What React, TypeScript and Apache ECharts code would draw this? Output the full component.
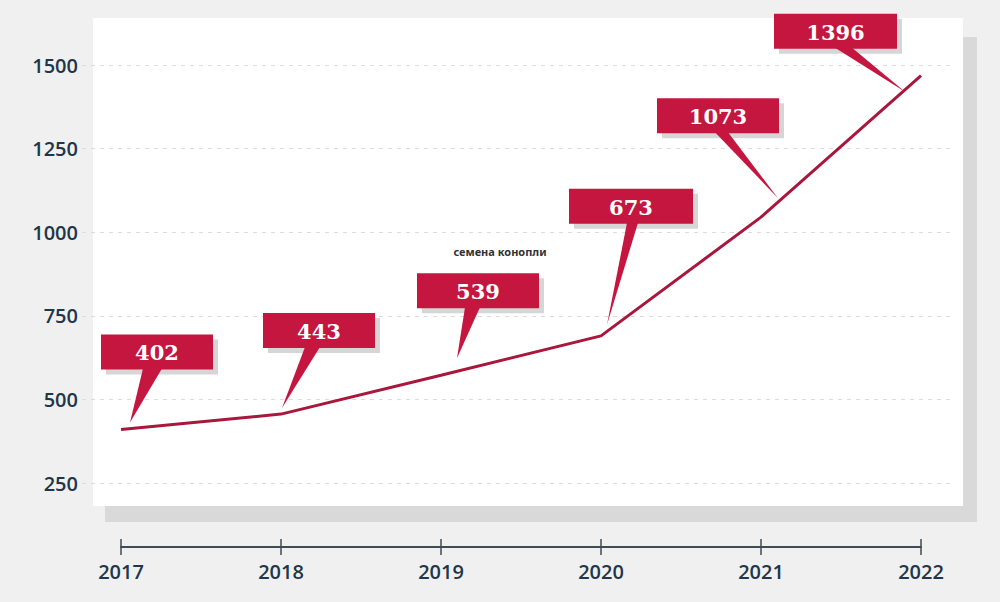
import React, { useEffect, useRef } from "react";
import * as echarts from "echarts";

const years = ["2017", "2018", "2019", "2020", "2021", "2022"];
const lineValues = [410, 456, 572, 690, 1045, 1468];
const labelValues = ["402", "443", "539", "673", "1073", "1396"];
const yMin = 250;
const yMax = 1500;
const yStep = 250;

// callout layout relative to each point (pixels)
const calloutLayout = [
  { bx: -20, by: -95, w: 112, tx: 9, ty: -7, b0: 22, b1: 41 },
  { bx: -18, by: -101, w: 112, tx: 1, ty: -6, b0: 24, b1: 39 },
  { bx: -24, by: -102, w: 122, tx: 16, ty: -17, b0: 24, b1: 39 },
  { bx: -32, by: -147, w: 124, tx: 6, ty: -11, b0: 26, b1: 37 },
  { bx: -104, by: -119, w: 122, tx: 17, ty: -19, b0: -46, b1: -33 },
  { bx: -147, by: -62, w: 123, tx: -16, ty: 16, b0: -86, b1: -69 },
];

const BOX_H = 35;
const RED = "#c4163f";
const LINE_RED = "#a9173c";
const TEXT_DARK = "#22364a";

export default function App() {
  const ref = useRef<HTMLDivElement>(null);
  useEffect(() => {
    document.body.style.margin = "0";
    const chart = echarts.init(ref.current as HTMLDivElement, null, { renderer: "svg" });
    const option: any = {
      animation: false,
      backgroundColor: "#f0f0f0",
      graphic: [
        { type: "rect", z: -10, shape: { x: 105, y: 37, width: 872, height: 485 }, style: { fill: "#d9d9d9" } },
        { type: "rect", z: -9, shape: { x: 93, y: 18, width: 870, height: 488 }, style: { fill: "#ffffff" } },
        {
          type: "text",
          z: 100,
          x: 500,
          y: 251,
          style: {
            text: "семена конопли",
            align: "center",
            verticalAlign: "middle",
            fill: "#333",
            fontSize: 11,
            fontWeight: "bold",
            fontFamily: "Noto Sans",
          },
        },
      ],
      grid: [
        { left: 121, right: 79, top: 65, bottom: 119 },
        { left: 82, right: 48, top: 65, bottom: 119 },
      ],
      xAxis: [
        {
          type: "category",
          gridIndex: 0,
          data: years,
          boundaryGap: false,
          offset: 64,
          axisLine: { show: true, lineStyle: { color: "#3f4b57", width: 2 } },
          axisTick: { show: true, inside: false, length: 8, lineStyle: { color: "#3f4b57", width: 1.5 } },
          axisLabel: { margin: 14, color: TEXT_DARK, fontSize: 20, fontWeight: 600, fontFamily: "Open Sans" },
          splitLine: { show: false },
        },
        {
          type: "category",
          gridIndex: 0,
          data: years,
          boundaryGap: false,
          offset: 64,
          position: "bottom",
          axisLine: { show: false },
          axisTick: { show: true, inside: true, length: 8, lineStyle: { color: "#3f4b57", width: 1.5 } },
          axisLabel: { show: false },
          splitLine: { show: false },
        },
        {
          type: "category",
          gridIndex: 1,
          data: years,
          show: false,
        },
      ],
      yAxis: [
        {
          type: "value",
          gridIndex: 0,
          min: yMin,
          max: yMax,
          interval: yStep,
          show: false,
          splitLine: { show: false },
        },
        {
          type: "value",
          gridIndex: 1,
          min: yMin,
          max: yMax,
          interval: yStep,
          axisLine: { show: false },
          axisTick: { show: false },
          axisLabel: {
            margin: 4,
            color: TEXT_DARK,
            fontSize: 20,
            fontWeight: 600,
            fontFamily: "Open Sans",
            formatter: (v: number) => String(v),
          },
          splitLine: { show: true, lineStyle: { color: "#dcdcdc", type: [4, 5], width: 1 } },
        },
      ],
      series: [
        {
          type: "line",
          xAxisIndex: 0,
          yAxisIndex: 0,
          data: lineValues,
          symbol: "none",
          lineStyle: { color: LINE_RED, width: 3 },
          z: 2,
        },
        {
          type: "custom",
          xAxisIndex: 0,
          yAxisIndex: 0,
          clip: false,
          z: 5,
          data: lineValues.map((v, i) => [i, v]),
          renderItem: (params: any, api: any) => {
            const i = params.dataIndex;
            const p = api.coord([api.value(0), api.value(1)]);
            const L = calloutLayout[i];
            const x = p[0] + L.bx;
            const y = p[1] + L.by;
            const bottom = y + BOX_H;
            return {
              type: "group",
              children: [
                { type: "rect", shape: { x: x + 5, y: y + 5, width: L.w, height: BOX_H }, style: { fill: "#d6d6d6" } },
                {
                  type: "polygon",
                  shape: {
                    points: [
                      [p[0] + L.b0, bottom - 1],
                      [p[0] + L.b1, bottom - 1],
                      [p[0] + L.tx, p[1] + L.ty],
                    ],
                  },
                  style: { fill: RED },
                },
                { type: "rect", shape: { x, y, width: L.w, height: BOX_H }, style: { fill: RED } },
                {
                  type: "text",
                  style: {
                    text: labelValues[i],
                    x: x + L.w / 2,
                    y: y + BOX_H / 2 + 1,
                    align: "center",
                    verticalAlign: "middle",
                    fill: "#ffffff",
                    fontSize: 21,
                    fontWeight: "bold",
                    fontFamily: "DejaVu Serif",
                  },
                },
              ],
            };
          },
        },
      ],
    };
    chart.setOption(option);
    return () => chart.dispose();
  }, []);
  return <div ref={ref} style={{ width: 1000, height: 602 }} />;
}
